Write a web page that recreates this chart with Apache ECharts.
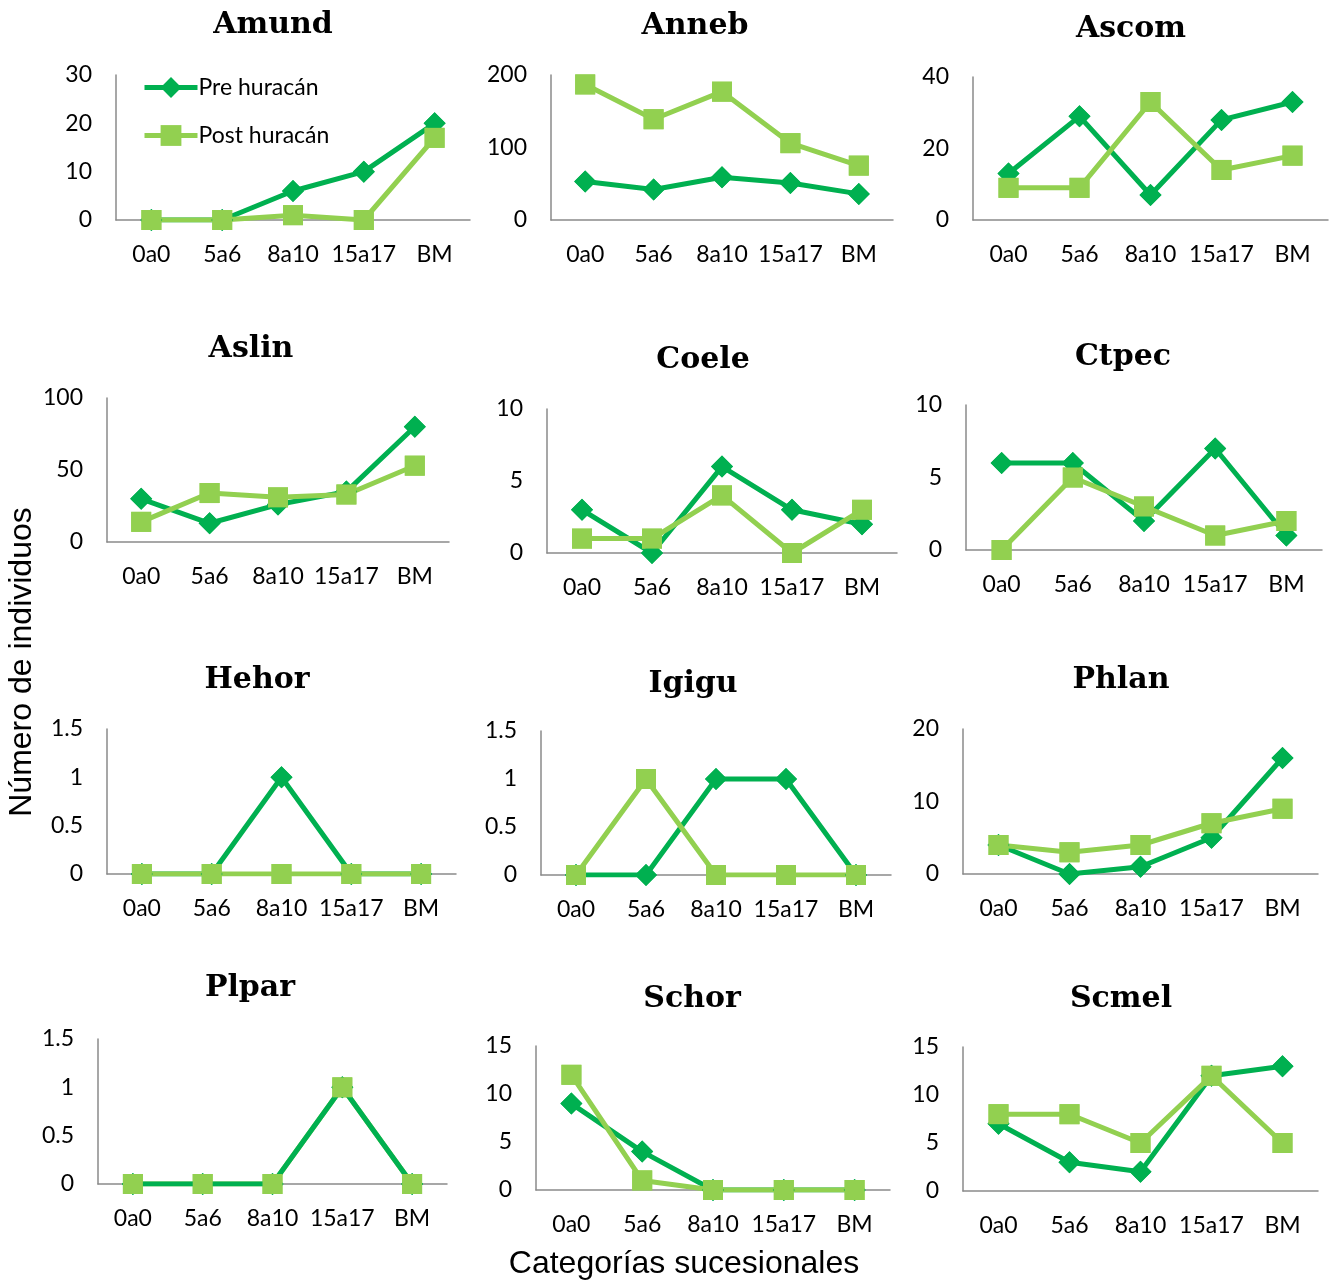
<!DOCTYPE html>
<html>
<head>
<meta charset="utf-8">
<script src="https://cdn.jsdelivr.net/npm/echarts@6/dist/echarts.min.js"></script>
<style>
  html, body { margin: 0; padding: 0; background: #fff; }
  #chart { width: 1330px; height: 1281px; }
</style>
</head>
<body>
<div id="chart"></div>
<script>
// Successional categories shared by every panel
const categories = ['0a0', '5a6', '8a10', '15a17', 'BM'];
const seriesNames = ['Pre huracán', 'Post huracán'];
const species = ['Amund', 'Anneb', 'Ascom', 'Aslin', 'Coele', 'Ctpec',
                 'Hehor', 'Igigu', 'Phlan', 'Plpar', 'Schor', 'Scmel'];

// Number of individuals per category, before and after the hurricane
const amundPre  = [0, 0, 6, 10, 20];
const amundPost = [0, 0, 1, 0, 17];
const annebPre  = [53, 42, 59, 51, 36];
const annebPost = [187, 139, 177, 106, 75];
const ascomPre  = [13, 29, 7, 28, 33];
const ascomPost = [9, 9, 33, 14, 18];
const aslinPre  = [30, 13, 26, 35, 80];
const aslinPost = [14, 34, 31, 33, 53];
const coelePre  = [3, 0, 6, 3, 2];
const coelePost = [1, 1, 4, 0, 3];
const ctpecPre  = [6, 6, 2, 7, 1];
const ctpecPost = [0, 5, 3, 1, 2];
const hehorPre  = [0, 0, 1, 0, 0];
const hehorPost = [0, 0, 0, 0, 0];
const igiguPre  = [0, 0, 1, 1, 0];
const igiguPost = [0, 1, 0, 0, 0];
const phlanPre  = [4, 0, 1, 5, 16];
const phlanPost = [4, 3, 4, 7, 9];
const plparPre  = [0, 0, 0, 1, 0];
const plparPost = [0, 0, 0, 1, 0];
const schorPre  = [9, 4, 0, 0, 0];
const schorPost = [12, 1, 0, 0, 0];
const scmelPre  = [7, 3, 2, 12, 13];
const scmelPost = [8, 8, 5, 12, 5];

const preValues  = [amundPre, annebPre, ascomPre, aslinPre, coelePre, ctpecPre,
                    hehorPre, igiguPre, phlanPre, plparPre, schorPre, scmelPre];
const postValues = [amundPost, annebPost, ascomPost, aslinPost, coelePost, ctpecPost,
                    hehorPost, igiguPost, phlanPost, plparPost, schorPost, scmelPost];

// Value-axis ranges (max and tick step) for each panel
const yMax  = [30, 200, 40, 100, 10, 10, 1.5, 1.5, 20, 1.5, 15, 15];
const yStep = [10, 100, 20, 50, 5, 5, 0.5, 0.5, 10, 0.5, 5, 5];

// ---- layout and styling ----
const PRE_COLOR = '#00B050';
const POST_COLOR = '#92D050';
const AXIS_COLOR = '#8a8a8a';
const TICK_FONT = 'Lato';
const TITLE_FONT = '"DejaVu Serif", serif';
const LINE_WIDTH = 5;

// plot boxes: [left, top, width, height]
const panelBoxes = [
  [116, 75, 354, 145], [551, 75, 342, 145], [973, 77, 355, 143],
  [107, 398, 342, 144], [547, 409, 350, 144], [966, 405, 356, 145],
  [107, 729, 349, 145], [541, 731, 350, 144], [963, 729, 355, 145],
  [98, 1039, 349, 145], [536, 1046, 354, 144], [963, 1047, 355, 144]
];
// panel title centres: [x, y]
const titleSpots = [
  [273, 23], [695, 24], [1131, 27],
  [251, 347], [703, 358], [1123, 355],
  [257, 678], [693, 682], [1121, 678],
  [250, 986], [692, 997], [1121, 997]
];
// panels where the pre-hurricane line is stacked above the post line
const preLineOnTop = [false, false, false, false, false, false,
                      false, false, false, true, false, false];

const grids = [], xAxes = [], yAxes = [], titles = [], series = [];

species.forEach((name, i) => {
  const [l, t, w, h] = panelBoxes[i];
  grids.push({ left: l, top: t, width: w, height: h, containLabel: false });

  xAxes.push({
    type: 'category', gridIndex: i, data: categories, boundaryGap: true,
    axisLine: { show: true, lineStyle: { color: AXIS_COLOR, width: 1.5 } },
    axisTick: { show: false },
    axisLabel: { margin: 23, color: '#000', fontFamily: TICK_FONT, fontSize: 23, interval: 0 },
    splitLine: { show: false }
  });
  yAxes.push({
    type: 'value', gridIndex: i, min: 0, max: yMax[i], interval: yStep[i],
    axisLine: { show: true, lineStyle: { color: AXIS_COLOR, width: 1.5 } },
    axisTick: { show: false },
    axisLabel: { margin: 24, color: '#000', fontFamily: TICK_FONT, fontSize: 23 },
    splitLine: { show: false }
  });

  titles.push({
    text: name, left: titleSpots[i][0], top: titleSpots[i][1] - 13, textAlign: 'center',
    padding: 0,
    textStyle: { fontFamily: TITLE_FONT, fontWeight: 'bold', fontSize: 30, color: '#000' }
  });

  const sets = [
    { name: seriesNames[0], data: preValues[i], color: PRE_COLOR, symbol: 'diamond', size: 22 },
    { name: seriesNames[1], data: postValues[i], color: POST_COLOR, symbol: 'rect', size: 20 }
  ];
  const lineOrder = preLineOnTop[i] ? [1, 0] : [0, 1];

  // connecting lines
  lineOrder.forEach((k, rank) => {
    const s = sets[k];
    series.push({
      type: 'line', name: s.name, xAxisIndex: i, yAxisIndex: i, data: s.data,
      symbol: s.symbol, symbolSize: s.size, showSymbol: true,
      lineStyle: { color: s.color, width: LINE_WIDTH },
      itemStyle: { color: s.color },
      z: 2 + rank, silent: true
    });
  });
  // markers, post-hurricane squares on top
  sets.forEach((s, k) => {
    series.push({
      type: 'scatter', name: s.name, xAxisIndex: i, yAxisIndex: i, data: s.data,
      symbol: s.symbol, symbolSize: s.size,
      itemStyle: { color: s.color, opacity: 1 },
      z: 10 + k, silent: true
    });
  });
});

const chart = echarts.init(document.getElementById('chart'));
chart.setOption({
  animation: false,
  backgroundColor: '#fff',
  title: titles,
  legend: {
    data: seriesNames,
    orient: 'vertical', left: 137, top: 71,
    itemWidth: 53, itemHeight: 26, itemGap: 25,
    lineStyle: { width: LINE_WIDTH },
    textStyle: { fontFamily: TICK_FONT, fontSize: 23, color: '#000', padding: [0, 0, 0, -4] },
    selectedMode: false
  },
  grid: grids,
  xAxis: xAxes,
  yAxis: yAxes,
  series: series,
  graphic: [
    {
      type: 'text', x: 22, y: 662, rotation: Math.PI / 2,
      style: {
        text: 'Número de individuos', fontFamily: '"Liberation Sans", Arial, sans-serif',
        fontSize: 32, fill: '#000', align: 'center', verticalAlign: 'middle'
      }
    },
    {
      type: 'text', x: 684, y: 1264,
      style: {
        text: 'Categorías sucesionales', fontFamily: '"Liberation Sans", Arial, sans-serif',
        fontSize: 32, fill: '#000', align: 'center', verticalAlign: 'middle'
      }
    }
  ]
});
</script>
</body>
</html>
